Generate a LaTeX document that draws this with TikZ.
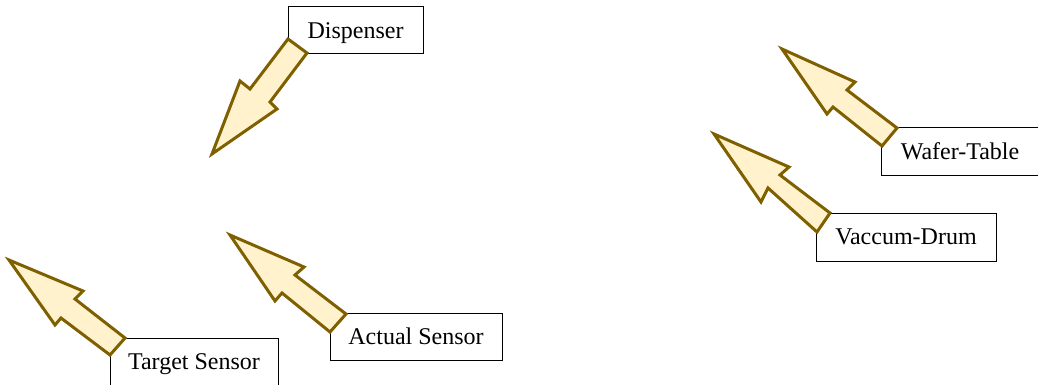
\documentclass[tikz,border=0pt]{standalone}
\usepackage{fontspec}
\setmainfont{Liberation Serif}
\begin{document}
\begin{tikzpicture}[x=1pt,y=-1pt,
  lbl/.style={draw=black,line width=1pt,fill=white,inner sep=0pt,text height=18pt,text depth=2.6pt,font=\fontsize{24}{28}\selectfont},
  blockarrow/.style={draw=arrowline,fill=arrowfill,line width=3pt,line join=miter}]
\definecolor{arrowline}{HTML}{7F6000}
\definecolor{arrowfill}{HTML}{FFF2CC}
\useasboundingbox (0,0) rectangle (1038,385);
% boxes
\node[lbl,minimum width=135pt,minimum height=47pt] (disp) at (355.5,30.5) {Dispenser};
\node[lbl,minimum width=168pt,minimum height=48pt] (target) at (194,362) {Target Sensor};
\node[lbl,minimum width=172pt,minimum height=47pt] (actual) at (416,336.5) {Actual Sensor};
\node[lbl,minimum width=158pt,minimum height=47pt] (wafer) at (960,151.5) {Wafer-Table};
\node[lbl,minimum width=180pt,minimum height=48pt] (drum) at (906,237) {Vaccum-Drum};
% block arrows
\draw[blockarrow] (288,39) -- (307,53) -- (270,102) -- (277,109) -- (212,154) -- (240,81) -- (250,89) -- cycle;
\draw[blockarrow] (9,260) -- (83,291) -- (75,299) -- (125,338) -- (110,355) -- (61,318) -- (55,325) -- cycle;
\draw[blockarrow] (230,235) -- (304,267) -- (295,275) -- (346,314) -- (330,332) -- (282,293) -- (275,301) -- cycle;
\draw[blockarrow] (782,49) -- (855,82) -- (847,90) -- (897,128) -- (882,146) -- (833,107) -- (827,114) -- cycle;
\draw[blockarrow] (714,134) -- (789,167) -- (780,175) -- (830,213) -- (817,232) -- (768,188) -- (761,202) -- cycle;
\end{tikzpicture}
\end{document}
